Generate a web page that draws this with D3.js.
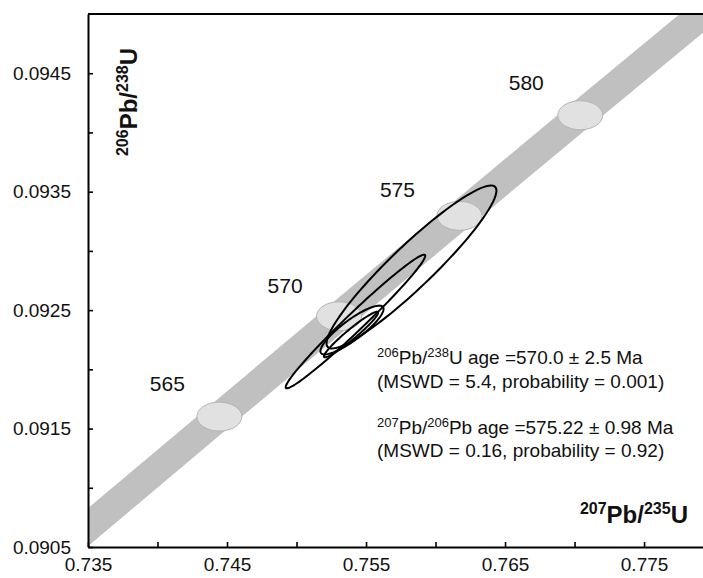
<!DOCTYPE html>
<html>
<head>
<meta charset="utf-8">
<script src="https://cdn.jsdelivr.net/npm/d3@7"></script>
<style>
  body { margin: 0; background: #fff; }
  svg { display: block; font-family: "Liberation Sans", Arial, sans-serif; }
</style>
</head>
<body>
<div id="chart"></div>
<script>
// Concordia curve (age in Ma, 207Pb/235U, 206Pb/238U)
const concordiaAge = [555, 560, 565, 570, 575, 580, 585, 590];
const concordiaX = [0.72736, 0.73589, 0.74445, 0.75306, 0.76172, 0.77041, 0.77915, 0.78794];
const concordiaY = [0.089909, 0.090755, 0.091601, 0.092448, 0.093296, 0.094145, 0.094994, 0.095843];
const concordiaErr = 0.00016; // half width of envelope, in 206Pb/238U

// Age markers on the concordia
const markerAge = [565, 570, 575, 580];
const markerX = [0.74445, 0.75306, 0.76172, 0.77041];
const markerY = [0.091601, 0.092448, 0.093296, 0.094145];

// Error ellipses: centre, half-extent in x and y, correlation
const ellX = [0.75827, 0.75424, 0.75399, 0.75392];
const ellY = [0.092864, 0.092404, 0.092332, 0.092294];
const ellSx = [0.00611, 0.00502, 0.00227, 0.00195];
const ellSy = [0.000688, 0.000564, 0.000206, 0.000192];
const ellRho = [0.936, 0.983, 0.865, 0.959];

// Axis ticks
const xTicks = [0.735, 0.740, 0.745, 0.750, 0.755, 0.760, 0.765, 0.770, 0.775];
const xTickLabels = ['0.735', '', '0.745', '', '0.755', '', '0.765', '', '0.775'];
const yTicks = [0.0905, 0.0910, 0.0915, 0.0920, 0.0925, 0.0930, 0.0935, 0.0940, 0.0945];
const yTickLabels = ['0.0905', '', '0.0915', '', '0.0925', '', '0.0935', '', '0.0945'];

// Result text
const annotation = [
  [['206', true], ['Pb/', false], ['238', true], ['U age =570.0 \u00b1 2.5 Ma', false]],
  [['(MSWD = 5.4, probability = 0.001)', false]],
  [['207', true], ['Pb/', false], ['206', true], ['Pb age =575.22 \u00b1 0.98 Ma', false]],
  [['(MSWD = 0.16, probability = 0.92)', false]]
];

const W = 703, H = 578;
const margin = { top: 14, right: 0, bottom: 31, left: 88 };
const width = W - margin.left - margin.right;
const height = H - margin.top - margin.bottom;

const svg = d3.select('#chart').append('svg')
  .attr('width', W).attr('height', H);

const g = svg.append('g')
  .attr('transform', `translate(${margin.left},${margin.top})`);

const x = d3.scaleLinear().domain([0.735, 0.77924]).range([0, width]);
const y = d3.scaleLinear().domain([0.0905, 0.0950]).range([height, 0]);

g.append('clipPath').attr('id', 'plot-clip')
  .append('rect').attr('width', width).attr('height', height);

const plot = g.append('g').attr('clip-path', 'url(#plot-clip)');

// Concordia envelope
const band = concordiaAge.map((a, i) => ({ x: concordiaX[i], y: concordiaY[i] }));
plot.append('path')
  .datum(band)
  .attr('fill', '#c0c0c0')
  .attr('d', d3.area()
    .x(d => x(d.x))
    .y0(d => y(d.y - concordiaErr))
    .y1(d => y(d.y + concordiaErr)));

// Age markers
const markers = markerAge.map((a, i) => ({ age: a, x: markerX[i], y: markerY[i] }));
plot.selectAll('.marker')
  .data(markers)
  .enter()
  .append('ellipse')
  .attr('class', 'marker')
  .attr('cx', d => x(d.x))
  .attr('cy', d => y(d.y))
  .attr('rx', 22.5)
  .attr('ry', 14.5)
  .attr('fill', '#e1e1e1')
  .attr('stroke', '#b4b4b4')
  .attr('stroke-width', 1);

// Age labels (hand placed offsets relative to marker)
const labelOffset = { 565: [-52, -33], 570: [-54, -31], 575: [-62, -26], 580: [-54, -33] };
g.selectAll('.age-label')
  .data(markers)
  .enter()
  .append('text')
  .attr('class', 'age-label')
  .attr('x', d => x(d.x) + labelOffset[d.age][0])
  .attr('y', d => y(d.y) + labelOffset[d.age][1])
  .attr('dy', '0.36em')
  .attr('text-anchor', 'middle')
  .style('font-size', '21px')
  .style('fill', '#111')
  .text(d => d.age);

// Error ellipses
const steps = d3.range(0, 2 * Math.PI, Math.PI / 60);
const ellipses = ellX.map((cx, i) => steps.map(t => ({
  x: cx + ellSx[i] * Math.cos(t),
  y: ellY[i] + ellSy[i] * (ellRho[i] * Math.cos(t) + Math.sqrt(1 - ellRho[i] * ellRho[i]) * Math.sin(t))
})));
const ellLine = d3.line().x(d => x(d.x)).y(d => y(d.y)).curve(d3.curveLinearClosed);
plot.selectAll('.ell')
  .data(ellipses)
  .enter()
  .append('path')
  .attr('class', 'ell')
  .attr('d', ellLine)
  .attr('fill', 'none')
  .attr('stroke', '#000')
  .attr('stroke-width', 2);

// Axes
const xAxis = g.append('g')
  .attr('transform', `translate(0,${height})`)
  .call(d3.axisBottom(x).tickValues(xTicks).tickSize(-5).tickSizeOuter(0).tickPadding(11)
    .tickFormat((d, i) => xTickLabels[i]));
const yAxis = g.append('g')
  .call(d3.axisLeft(y).tickValues(yTicks).tickSize(-5).tickSizeOuter(0).tickPadding(17)
    .tickFormat((d, i) => yTickLabels[i]));

[xAxis, yAxis].forEach(ax => {
  ax.select('.domain').attr('stroke', '#000').attr('stroke-width', 2);
  ax.selectAll('.tick line').attr('stroke', '#000').attr('stroke-width', 1.6);
  ax.selectAll('.tick text')
    .style('font-family', '"Liberation Sans", Arial, sans-serif')
    .style('font-size', '19px')
    .style('fill', '#111');
});

// Top frame line
g.append('line')
  .attr('x1', 0).attr('x2', width)
  .attr('y1', 0).attr('y2', 0)
  .attr('stroke', '#000').attr('stroke-width', 2);

// Axis titles
function isotopeTitle(sel, parts) {
  parts.forEach(([txt, sup], i) => {
    const prevSup = i > 0 && parts[i - 1][1];
    sel.append('tspan')
      .attr('dy', sup ? (prevSup ? 0 : -9) : (prevSup ? 9 : 0))
      .style('font-size', sup ? '16px' : '24px')
      .text(txt);
  });
}

const xTitle = svg.append('text')
  .attr('x', 688).attr('y', 523)
  .attr('text-anchor', 'end')
  .style('font-weight', 'bold')
  .style('fill', '#111');
isotopeTitle(xTitle, [['207', true], ['Pb/', false], ['235', true], ['U', false]]);

const yTitle = svg.append('text')
  .attr('transform', 'translate(137,102) rotate(-90)')
  .attr('text-anchor', 'middle')
  .style('font-weight', 'bold')
  .style('fill', '#111');
isotopeTitle(yTitle, [['206', true], ['Pb/', false], ['238', true], ['U', false]]);

// Result annotation
const lineY = [364, 388, 434, 457];
annotation.forEach((parts, li) => {
  const t = svg.append('text')
    .attr('x', 377).attr('y', lineY[li])
    .style('font-size', '19px')
    .style('fill', '#111');
  parts.forEach(([txt, sup], i) => {
    const prevSup = i > 0 && parts[i - 1][1];
    t.append('tspan')
      .attr('dy', sup ? (prevSup ? 0 : -7) : (prevSup ? 7 : 0))
      .style('font-size', sup ? '13px' : '19px')
      .text(txt);
  });
});
</script>
</body>
</html>
